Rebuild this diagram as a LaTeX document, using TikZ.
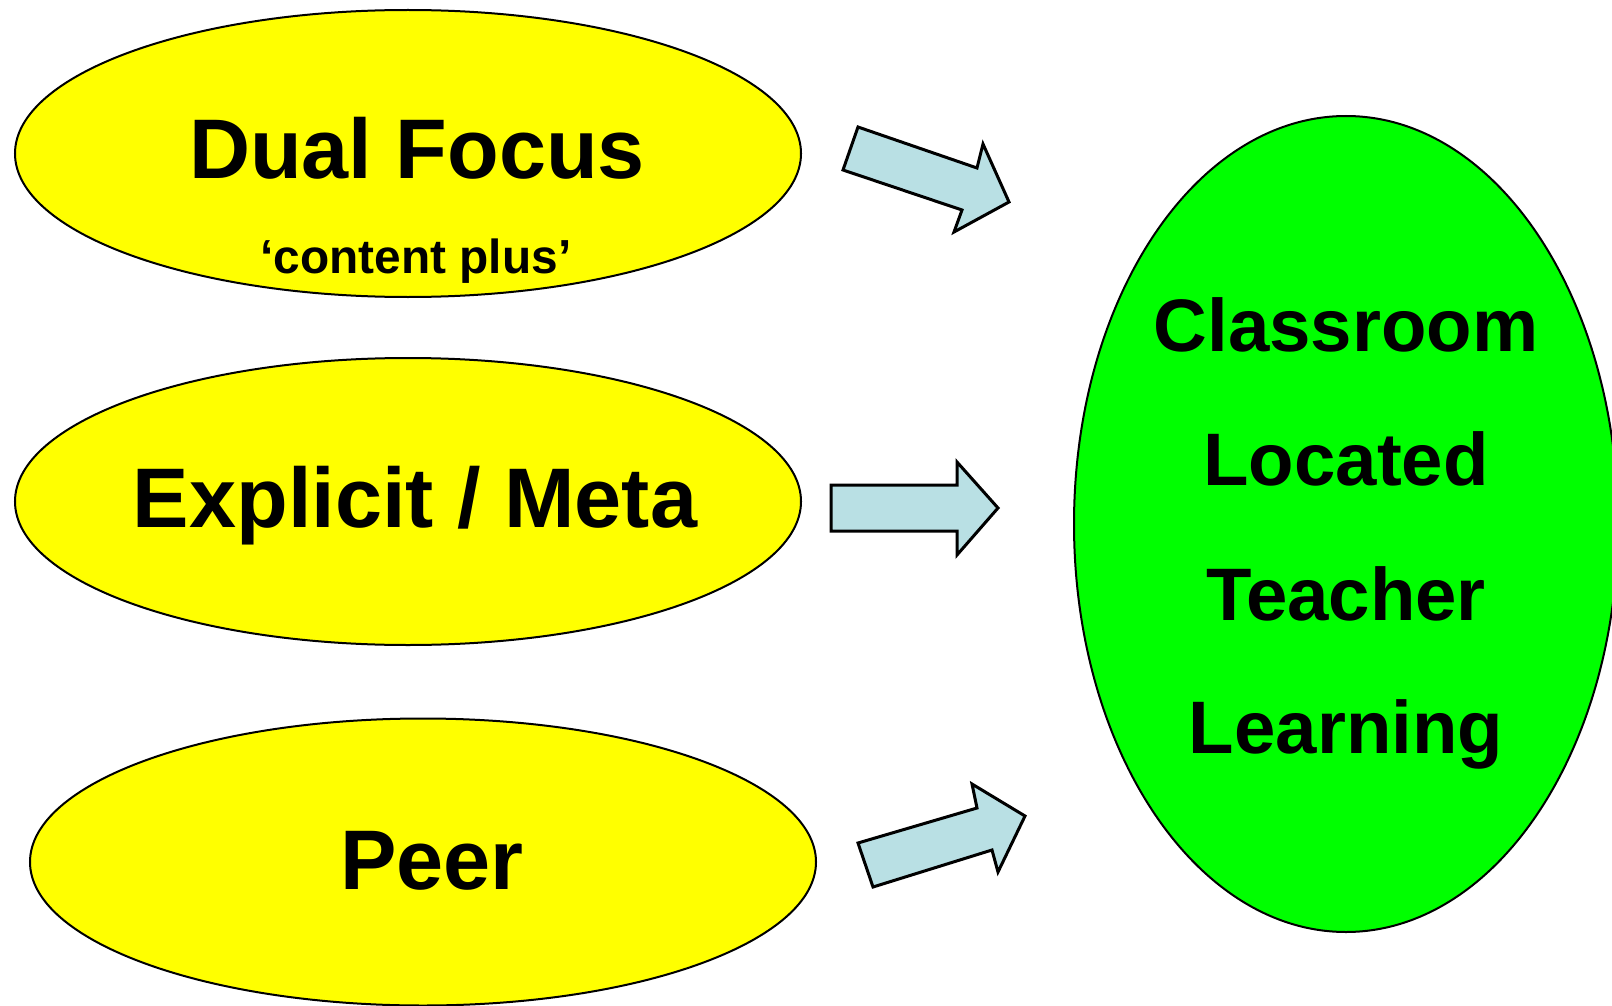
\documentclass[tikz,border=0pt]{standalone}
\usepackage{fontspec}
\usepackage{xcolor}
\usetikzlibrary{shapes.geometric}
\setmainfont{Liberation Sans}
\definecolor{ovalyellow}{RGB}{255,255,0}
\definecolor{ovalgreen}{RGB}{0,255,0}
\definecolor{arrowblue}{RGB}{185,224,228}
\tikzset{
  oval/.style={ellipse, draw=black, line width=1pt, fill=ovalyellow, inner sep=0pt,
    minimum width=393pt, minimum height=143.5pt},
  bigoval/.style={ellipse, draw=black, line width=1pt, fill=ovalgreen, inner sep=0pt,
    minimum width=272pt, minimum height=408pt},
  blockarrow/.style={draw=black, line width=1.5pt, fill=arrowblue, line join=miter},
  bigtext/.style={anchor=base, inner sep=0pt, font=\fontsize{42.3}{50}\selectfont\bfseries},
  smalltext/.style={anchor=base, inner sep=0pt, font=\fontsize{23.9}{30}\selectfont\bfseries},
  goaltext/.style={anchor=base, inner sep=0pt, font=\fontsize{37.2}{46}\selectfont\bfseries}
}

\begin{document}
\begin{tikzpicture}[x=0.5pt,y=-0.5pt]
                \useasboundingbox (0,0) rectangle (1612,1006);

                % Ovals
                \node[oval] (dual) at (408,153.5) {};
                \node[oval] (explicit) at (408,501.5) {};
                \node[oval] (peer) at (423,862) {};
                \node[bigoval] (classroom) at (1346,524) {};

                % Oval texts
                \node[bigtext] (dualtxt) at (417,178) {Dual Focus};
                \node[smalltext] (plustxt) at (416,273) {‘content plus’};
                \node[bigtext] (explicittxt) at (415,527) {Explicit / Meta};
                \node[bigtext] (peertxt) at (432,889) {Peer};

                % Goal text
                \node[goaltext] (line1) at (1346,351.5) {Classroom};
                \node[goaltext] (line2) at (1346,485) {Located};
                \node[goaltext] (line3) at (1346,620) {Teacher};
                \node[goaltext] (line4) at (1346,753.5) {Learning};

                % Arrows
                \filldraw[blockarrow] (858,127) -- (977,168) -- (983,144) -- (1009,202)
                  -- (954,232) -- (962,210) -- (843,170) -- cycle;
                \filldraw[blockarrow] (831,485) -- (957,485) -- (957,462) -- (998,508)
                  -- (957,555) -- (957,531) -- (831,531) -- cycle;
                \filldraw[blockarrow] (858,843) -- (977,808) -- (972,784) -- (1025,816)
                  -- (998,872) -- (992,850) -- (873,887) -- cycle;
            \end{tikzpicture}
\end{document}
